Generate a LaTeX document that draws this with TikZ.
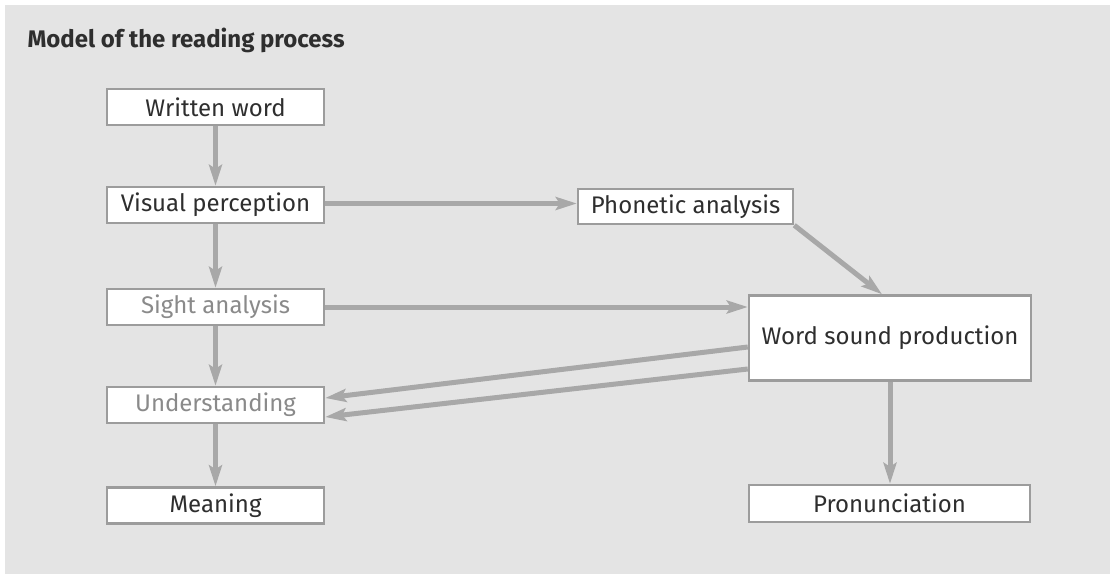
\documentclass[tikz,border=0pt]{standalone}
\usepackage{fontspec}
\setmainfont{Fira Sans}
\usetikzlibrary{arrows.meta,calc}
\definecolor{panel}{HTML}{E4E4E4}
\definecolor{flow}{HTML}{A8A8A8}
\definecolor{frame}{HTML}{9C9C9C}
\definecolor{ink}{HTML}{2E2E2E}
\definecolor{faint}{HTML}{8A8A8A}
\begin{document}
\begin{tikzpicture}[x=1pt,y=-1pt,
  stagebox/.style={draw=frame,line width=2.5pt,fill=white,minimum width=217pt,minimum height=36pt,inner sep=0pt,font=\fontsize{24}{28}\selectfont,text=ink},
  flowarrow/.style={draw=flow,line width=5pt,-{Stealth[length=21pt,width=13pt,inset=4pt]}}]
  % background panel
  \useasboundingbox (0,0) rectangle (1110,576);
  \fill[white] (0,0) rectangle (1110,576);
  \fill[panel] (5,5) rectangle (1110,574);
  % title
  \node[anchor=west,font=\fontsize{24}{28}\selectfont\bfseries,text=ink] (title) at (24,40) {Model of the reading process};
  % left column
  \node[stagebox] (ww) at (215.5,107) {Written word};
  \node[stagebox] (vp) at (215.5,205) {Visual perception};
  \node[stagebox,text=faint] (sa) at (215.5,307) {Sight analysis};
  \node[stagebox,text=faint] (un) at (215.5,405) {Understanding};
  \node[stagebox] (me) at (215.5,505.5) {Meaning};
  % right side
  \node[stagebox,minimum width=215pt,minimum height=35pt] (pa) at (685.5,206.5) {Phonetic analysis};
  \node[stagebox,minimum width=282pt,minimum height=85pt] (wsp) at (890,338) {Word sound production};
  \node[stagebox,minimum width=281pt,minimum height=37pt] (pr) at (889.5,503.5) {Pronunciation};
  % connectors
  \draw[flowarrow] (ww) -- (vp);
  \draw[flowarrow] (vp) -- (sa);
  \draw[flowarrow] (sa) -- (un);
  \draw[flowarrow] (un) -- (me);
  \draw[flowarrow] ([yshift=1.5pt]vp.east) -- ([yshift=1.5pt]vp.east -| pa.west);
  \draw[flowarrow] (sa.east) -- (sa.east -| wsp.west);
  \draw[flowarrow] (pa.south east) -- ([xshift=-8pt]wsp.north);
  \draw[flowarrow] ([yshift=-9pt]wsp.west) -- ([yshift=7pt]un.east);
  \draw[flowarrow] ([yshift=-31pt]wsp.west) -- ([yshift=-12pt]un.east);
  \draw[flowarrow] (wsp.south) -- (wsp.south |- pr.north);
\end{tikzpicture}
\end{document}
